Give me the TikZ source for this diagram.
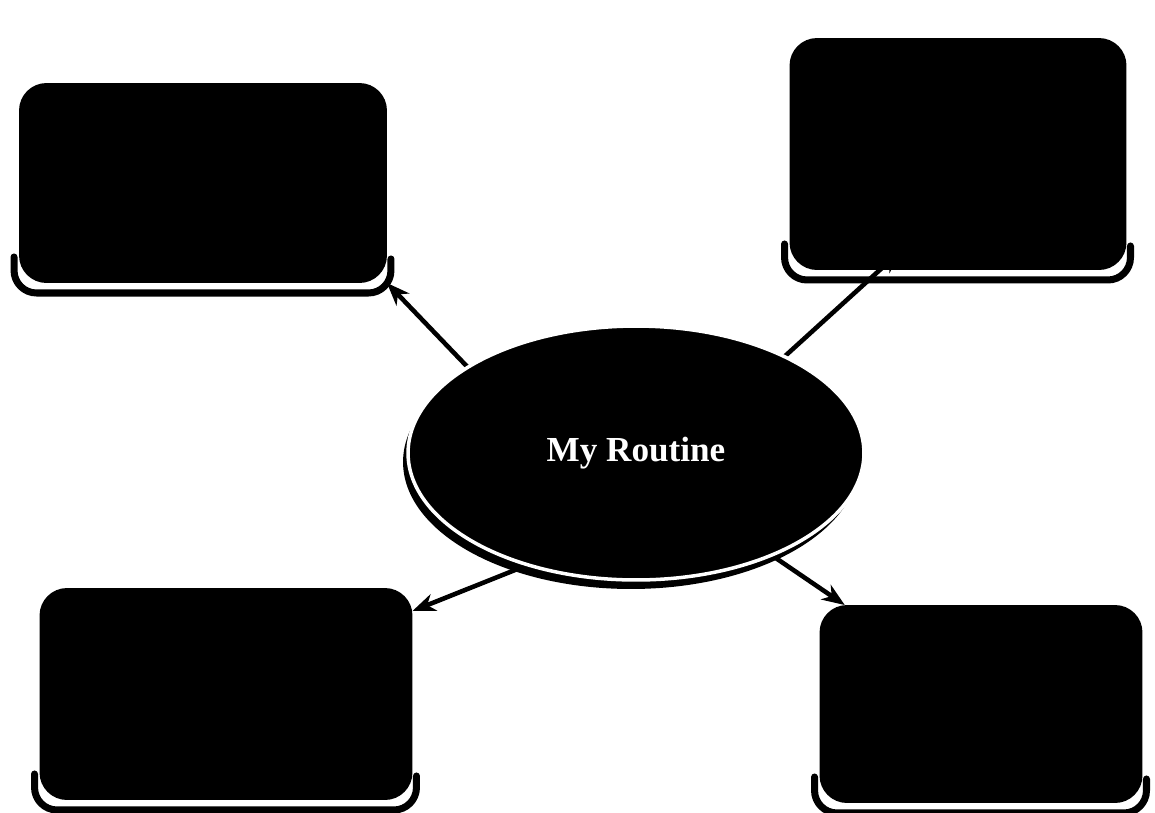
\documentclass[tikz,border=0pt]{standalone}
\usepackage{fontspec}
\setmainfont{Liberation Serif}
\usetikzlibrary{shapes.geometric, arrows.meta, calc, backgrounds}

\begin{document}
\begin{tikzpicture}[
    x=0.02cm, y=-0.02cm,
    card/.style={
        rectangle, fill=black, rounded corners=0.55cm, inner sep=0pt, outer sep=0pt
    },
    hub/.style={
        ellipse, fill=black, inner sep=0pt, outer sep=0pt,
        minimum width=9.12cm, minimum height=5.08cm
    },
    shade/.style={
        draw=black, line width=4pt, rounded corners=0.45cm, line cap=round
    },
    link/.style={
        line width=2.6pt, -{Stealth[length=13pt, width=10pt, inset=4pt]}
    },
]
\useasboundingbox (0,0) rectangle (1155,812);

% centre ellipse and its shadow
\node[hub] (hubshadow) at (631, 462) {};
\node[hub, draw=white, line width=2pt, text=white,
      font=\fontsize{20}{24}\selectfont\bfseries] (routine) at (636, 453) {My Routine};

% the four cards
\node[card, minimum width=7.36cm, minimum height=4.0cm] (tl) at (203, 183) {};
\node[card, minimum width=6.74cm, minimum height=4.64cm] (tr) at (958, 154) {};
\node[card, minimum width=7.46cm, minimum height=4.24cm] (bl) at (226, 694) {};
\node[card, minimum width=6.46cm, minimum height=3.96cm] (br) at (981, 704) {};

% card shadows and links, behind everything
\begin{scope}[on background layer]
\foreach \c in {tl, tr, bl, br} {
    \draw[shade] ($(\c.south west)+(-5,-26)$) -- ($(\c.south west)+(-5,10)$)
        -- ($(\c.south east)+(4,10)$) -- ($(\c.south east)+(4,-24)$);
}
\draw[link] (routine.153) -- (tl.south east);
\draw[link, shorten >=-16pt] (routine.33) -- (tr.236);
\draw[link] (routine.226) -- (bl.24);
\draw[link] (routine.-37) -- (br.144);
\end{scope}

\end{tikzpicture}
\end{document}
